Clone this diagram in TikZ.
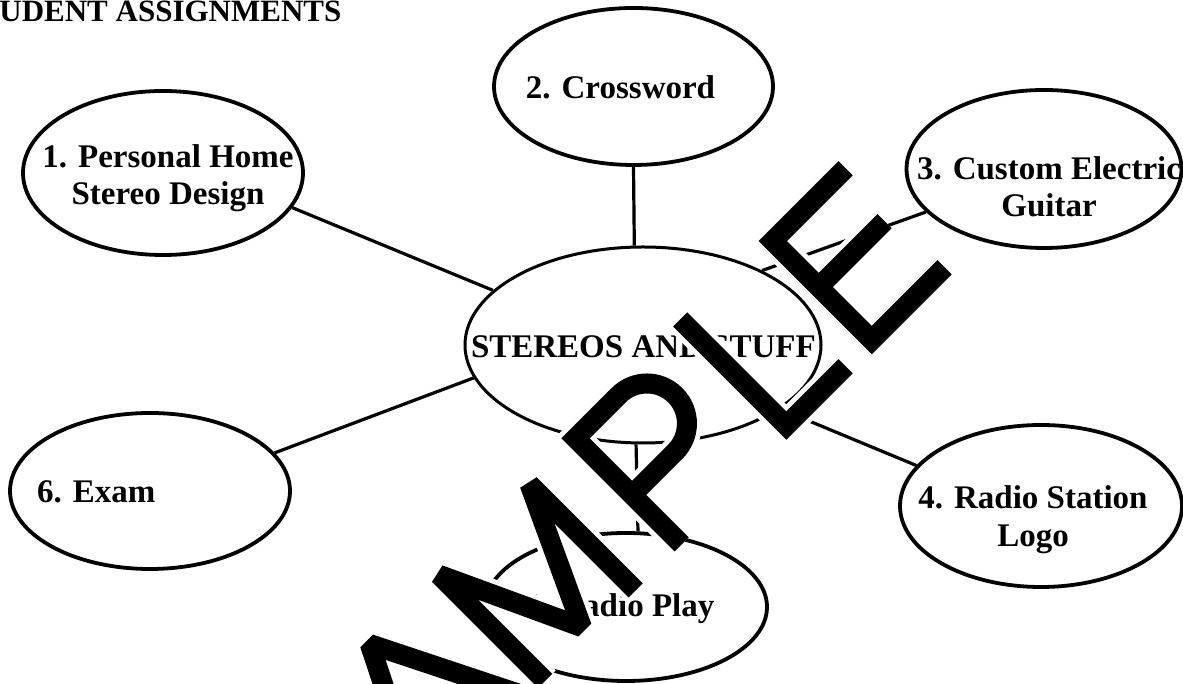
\documentclass[tikz,border=0pt]{standalone}
\usepackage{fontspec}
\setmainfont{Liberation Serif}
\usepackage{tikz}
\usetikzlibrary{shapes.geometric}

\begin{document}
\begin{tikzpicture}[x=0.5pt, y=0.5pt,
    bubble/.style={ellipse, draw, line width=1.9pt, inner sep=0pt},
    lbl/.style={inner sep=0pt, align=center, font=\fontsize{16.5}{18.7}\selectfont\bfseries},
    link/.style={line width=1.6pt},
    stamp/.style={black, line width=10pt},
    halo/.style={white, line width=15pt}]
    \useasboundingbox (0,0) rectangle (1183,684);
    \clip (0,0) rectangle (1183,684);

    % Title (cut off at the left edge)
    \node[lbl, font=\fontsize{15.5}{18}\selectfont\bfseries, anchor=base west] (title) at (-1,662) {UDENT ASSIGNMENTS};

    % Bubbles
    \node[bubble, line width=1.5pt, minimum width=178pt, minimum height=98pt] (hub) at (643,339) {};
    \node[bubble, minimum width=140pt, minimum height=82pt] (home) at (163,511) {};
    \node[bubble, minimum width=139.5pt, minimum height=78.5pt] (cross) at (633.5,597.5) {};
    \node[bubble, minimum width=137.5pt, minimum height=79pt] (guitar) at (1044,515) {};
    \node[bubble, minimum width=141pt, minimum height=81pt] (logo) at (1041,178) {};
    \node[bubble, minimum width=141pt, minimum height=74pt] (play) at (626,77) {};
    \node[bubble, minimum width=140pt, minimum height=78pt] (exam) at (150,193) {};

    % Labels
    \node[lbl, anchor=base] (hub-txt) at (643.4,326.3) {STEREOS AND STUFF};
    \node[lbl] (home-txt) at (168,506) {1. Personal Home\\Stereo Design};
    \node[lbl, anchor=base] (cross-txt) at (620.5,585) {2. Crossword};
    \node[lbl] (guitar-txt) at (1049,497.5) {3. Custom Electric\\Guitar};
    \node[lbl] (logo-txt) at (1033,164.5) {4. Radio Station\\Logo};
    \node[lbl, anchor=base] (play-txt) at (619,67.3) {5. Radio Play};
    \node[lbl, anchor=base west] (exam-txt) at (36.7,181) {6. Exam};

    % Spokes
    \draw[link] (home.345.2) -- (hub.160.5);
    \draw[link] (cross.south) -- (hub.95);
    \draw[link] (guitar.200.3) -- (hub.32);
    \draw[link] (logo.162.4) -- (hub.335);
    \draw[link] (play.81.5) -- (hub.266.5);
    \draw[link] (exam.17.2) -- (hub.191.6);

    % SAMPLE stamp over everything
    \begin{scope}[shift={(543,1)}, rotate=45]
      \foreach \pen in {halo, stamp} {
        \draw[\pen, line join=bevel] (-170,0) -- (-95,150) -- (-20,0) (-140,50) -- (-45,50);
        \draw[\pen, line join=bevel] (3,0) -- (3,150) -- (67,12) -- (131,150) -- (131,0);
        \draw[\pen] (196,0) -- (196,150) -- (257,150) arc[start angle=90, end angle=-90, radius=40] -- (196,70);
        \draw[\pen] (354,160) -- (354,10) -- (438,10);
        \draw[\pen] (578,150) -- (475,150) -- (475,10) -- (578,10) (475,85) -- (568,85);
      }
    \end{scope}
\end{tikzpicture}
\end{document}
